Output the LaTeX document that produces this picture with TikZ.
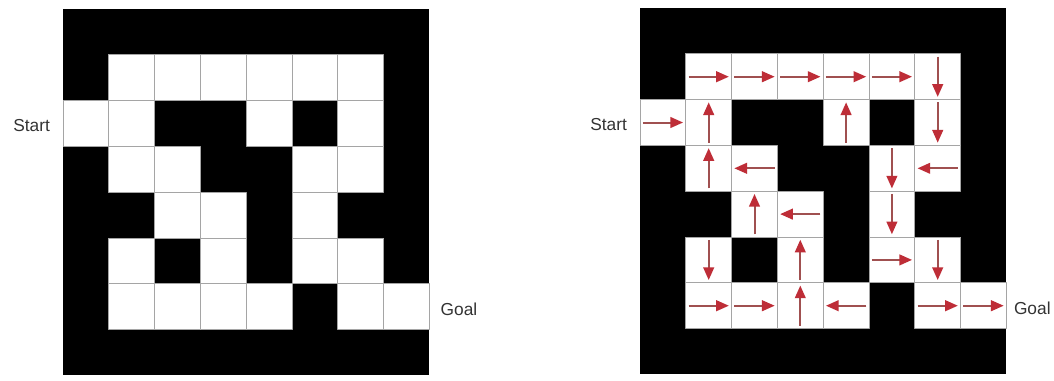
\documentclass[tikz,border=0pt]{standalone}
\usepackage{fontspec}
\setmainfont{Liberation Sans}
\usetikzlibrary{arrows.meta}
\definecolor{pathred}{RGB}{190,45,55}
\definecolor{shaftred}{RGB}{160,80,80}
\definecolor{wallgray}{RGB}{165,165,165}
% open cells of the maze: column/row/direction of the move
\def\mazeroute{1/1/0,2/1/0,3/1/0,4/1/0,5/1/0,6/1/270,
	0/2/0,1/2/90,4/2/90,6/2/270,
	1/3/90,2/3/180,5/3/270,6/3/180,
	2/4/90,3/4/180,5/4/270,
	1/5/270,3/5/90,5/5/0,6/5/270,
	1/6/0,2/6/0,3/6/90,4/6/180,6/6/0,7/6/0}
\begin{document}
\begin{tikzpicture}[x=0.75pt, y=-0.75pt, font=\fontsize{13}{15}\selectfont, line join=round,
		cell/.style={fill=white, draw=wallgray, line width=0.5pt},
		move/.style={draw=shaftred, line width=1.5pt, -{Triangle[length=9.5pt, width=8pt, color=pathred]}},
		label/.style={text=black!80, inner sep=0pt}]
	\useasboundingbox (0,0) rectangle (1054,380);
	% maze
	\begin{scope}[shift={(63,9)}, x=34.35pt, y=-34.35pt]
		\fill (0,0) rectangle (8,8);
		\foreach \c/\r/\ang in \mazeroute
		\draw[cell] (\c,\r) rectangle ++(1,1);
		\node[label, anchor=east] (startL) at (-0.28,2.55) {Start};
		\node[label, anchor=west] (goalL) at (8.24,6.55) {Goal};
	\end{scope}
	% solved maze
	\begin{scope}[shift={(640,8)}, x=34.35pt, y=-34.35pt]
		\fill (0,0) rectangle (8,8);
		\foreach \c/\r/\ang in \mazeroute
		\draw[cell] (\c,\r) rectangle ++(1,1);
		\foreach \c/\r/\ang in \mazeroute
		\draw[move] (\c+0.5,\r+0.5) ++(180-\ang:0.44) -- ++(-\ang:0.88);
		\node[label, anchor=east] (startR) at (-0.28,2.55) {Start};
		\node[label, anchor=west] (goalR) at (8.16,6.55) {Goal};
	\end{scope}
\end{tikzpicture}
\end{document}
